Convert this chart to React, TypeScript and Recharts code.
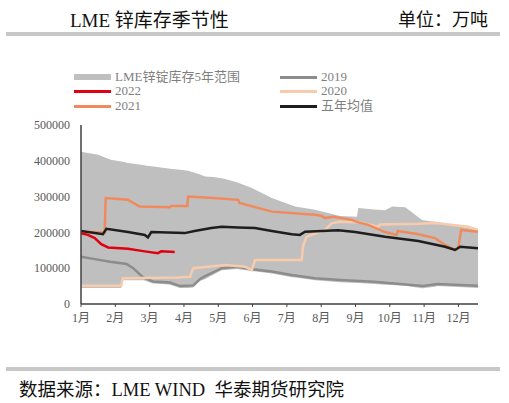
import { ComposedChart, Area, Line, XAxis, YAxis } from 'recharts'

const SERIF = '"Liberation Serif", "Noto Sans CJK SC", serif'

// axis ticks
const MONTH_TICKS = [1, 2, 3, 4, 5, 6, 7, 8, 9, 10, 11, 12]
const MONTH_LABELS = ['1月', '2月', '3月', '4月', '5月', '6月', '7月', '8月', '9月', '10月', '11月', '12月']
const Y_TICKS = [0, 100000, 200000, 300000, 400000, 500000]

// LME锌锭库存5年范围 (x = month position)
const RANGE_X = [1.0, 1.5, 1.87, 2.17, 2.22, 2.37, 2.81, 2.87, 3.1, 3.45, 3.59, 3.89, 4.12, 4.27, 4.47, 4.62, 4.85, 5.1, 5.2, 5.54, 5.98, 6.56, 7.14, 7.24, 7.82, 8.55, 9.04, 9.08, 9.54, 9.86, 10.07, 10.45, 10.93, 10.97, 11.32, 11.38, 12.57]
const RANGE_HIGH = [425000, 417000, 403000, 398000, 397000, 394000, 388000, 387000, 384000, 380000, 378000, 375000, 372000, 368000, 362000, 356000, 355000, 351000, 349000, 340000, 324000, 296000, 276000, 272000, 263000, 246000, 244000, 268000, 264000, 262000, 272000, 270000, 235000, 234000, 230000, 229000, 207000]
const RANGE_LOW = [45000, 45000, 45000, 45000, 66000, 66000, 66000, 65000, 57000, 55000, 54000, 45000, 45000, 46000, 64000, 70000, 82000, 94000, 95000, 98000, 92000, 85000, 75000, 74000, 66000, 61000, 59000, 59000, 56000, 54000, 53000, 51000, 44000, 44000, 48000, 50000, 45000]

// 2019
const X_2019 = [1.0, 1.36, 1.85, 2.33, 2.52, 2.81, 3.1, 3.59, 3.89, 4.27, 4.47, 4.62, 5.1, 5.54, 5.93, 6.56, 7.14, 7.82, 8.55, 9.54, 10.97, 11.38, 12.57]
const V_2019 = [132000, 126000, 118000, 112000, 100000, 74000, 63000, 60000, 50000, 52000, 70000, 78000, 100000, 104000, 98000, 91000, 81000, 72000, 67000, 62000, 50000, 56000, 51000]

// 2020
const X_2020 = [1.0, 2.17, 2.22, 3.83, 4.18, 4.27, 5.2, 5.78, 5.98, 6.07, 7.43, 7.48, 7.58, 8.11, 8.31, 8.55, 9.13, 9.66, 9.72, 10.83, 11.32, 12.28, 12.57]
const V_2020 = [51000, 51000, 72000, 74000, 76000, 100000, 109000, 104000, 95000, 123000, 123000, 165000, 188000, 207000, 226000, 230000, 228000, 216000, 222000, 224000, 226000, 216000, 207000]

// 2021
const X_2021 = [1.0, 1.69, 1.72, 2.37, 2.71, 3.59, 3.62, 4.1, 4.12, 4.85, 5.58, 5.62, 6.56, 7.82, 8.02, 8.11, 8.35, 8.89, 9.08, 9.37, 9.86, 10.2, 10.23, 10.83, 11.32, 11.61, 11.9, 11.99, 12.08, 12.57]
const V_2021 = [202000, 200000, 296000, 291000, 272000, 270000, 274000, 274000, 300000, 296000, 291000, 282000, 258000, 249000, 246000, 240000, 244000, 235000, 228000, 221000, 201000, 193000, 204000, 195000, 184000, 165000, 151000, 155000, 207000, 202000]

// 2022
const X_2022 = [1.0, 1.2, 1.4, 1.59, 1.79, 2.37, 2.86, 3.24, 3.34, 3.73]
const V_2022 = [198000, 193000, 184000, 167000, 158000, 154000, 147000, 142000, 147000, 145000]

// 五年均值
const X_AVG = [1.0, 1.64, 1.74, 2.37, 2.86, 2.95, 3.05, 4.02, 4.31, 4.8, 5.1, 5.58, 6.07, 6.56, 7.14, 7.38, 7.53, 8.02, 8.5, 8.99, 9.86, 10.83, 11.61, 11.9, 12.05, 12.57]
const V_AVG = [204000, 195000, 210000, 201000, 193000, 186000, 201000, 198000, 204000, 212000, 216000, 214000, 212000, 204000, 195000, 193000, 202000, 204000, 206000, 201000, 188000, 176000, 160000, 151000, 160000, 156000]

const COLORS = {
  range: '#BFBFBF',
  y2019: '#8C8C8C',
  y2020: '#F8CBAD',
  y2021: '#F08A5D',
  y2022: '#E00010',
  avg: '#1E1E1E',
}

const toPts = (xs: number[], vs: number[]) => xs.map((x, i) => ({ x, v: vs[i] }))

const rangeData = RANGE_X.map((x, i) => ({ x, range: [RANGE_LOW[i], RANGE_HIGH[i]] }))

const LEGEND = [
  { label: 'LME锌锭库存5年范围', color: COLORS.range, band: true, left: 74, top: 77 },
  { label: '2022', color: COLORS.y2022, left: 74, top: 91 },
  { label: '2021', color: COLORS.y2021, left: 74, top: 106 },
  { label: '2019', color: COLORS.y2019, left: 280, top: 77 },
  { label: '2020', color: COLORS.y2020, left: 280, top: 91 },
  { label: '五年均值', color: COLORS.avg, left: 280, top: 106 },
]

export default function App() {
  return (
    <div style={{ position: 'absolute', left: 0, top: 0, width: 509, height: 403, background: '#fff', fontFamily: SERIF }}>
      {/* header */}
      <div style={{ position: 'absolute', left: 70, top: 5, fontSize: 19, color: '#111', whiteSpace: 'nowrap' }}>
        LME 锌库存季节性
      </div>
      <div style={{ position: 'absolute', right: 21, top: 5, fontSize: 18, color: '#111', whiteSpace: 'nowrap' }}>
        单位：万吨
      </div>
      <div style={{ position: 'absolute', left: 6, top: 32, width: 494, height: 4, background: '#C8C8C8' }} />

      {/* legend */}
      {LEGEND.map((l) => (
        <div key={l.label} style={{ position: 'absolute', left: l.left, top: l.top - 7, height: 14, lineHeight: '14px', display: 'flex', alignItems: 'center', whiteSpace: 'nowrap' }}>
          <span style={{ display: 'inline-block', width: 37, height: l.band ? 6 : 3, background: l.color }} />
          <span style={{ marginLeft: 4, fontSize: 13, color: '#7F7F7F' }}>{l.label}</span>
        </div>
      ))}

      <ComposedChart width={509} height={403} margin={{ top: 125, right: 31, bottom: 74, left: 0 }}
        style={{ position: 'absolute', left: 0, top: 0 }}>
        <XAxis type="number" dataKey="x" domain={[1, 12.57]} ticks={MONTH_TICKS} allowDataOverflow
          tickFormatter={(v) => MONTH_LABELS[(v as number) - 1]}
          axisLine={{ stroke: '#404040', strokeWidth: 1.5 }} tickLine={{ stroke: '#404040' }} tickSize={3} tickMargin={6}
          tick={{ fontSize: 12, fill: '#595959', fontFamily: SERIF }} height={25} />
        <YAxis type="number" domain={[0, 500000]} ticks={Y_TICKS} allowDataOverflow width={81}
          axisLine={{ stroke: '#404040', strokeWidth: 1.5 }} tickLine={false} tickMargin={5}
          tick={{ fontSize: 12, fill: '#595959', fontFamily: SERIF }} />
        <Area data={rangeData} dataKey="range" type="linear" stroke="none" fill={COLORS.range} fillOpacity={1} isAnimationActive={false} />
        <Line data={toPts(X_2019, V_2019)} dataKey="v" type="linear" stroke={COLORS.y2019} strokeWidth={2.5} dot={false} isAnimationActive={false} />
        <Line data={toPts(X_2020, V_2020)} dataKey="v" type="linear" stroke={COLORS.y2020} strokeWidth={2.5} dot={false} isAnimationActive={false} />
        <Line data={toPts(X_2021, V_2021)} dataKey="v" type="linear" stroke={COLORS.y2021} strokeWidth={2.5} dot={false} isAnimationActive={false} />
        <Line data={toPts(X_AVG, V_AVG)} dataKey="v" type="linear" stroke={COLORS.avg} strokeWidth={2.5} dot={false} isAnimationActive={false} />
        <Line data={toPts(X_2022, V_2022)} dataKey="v" type="linear" stroke={COLORS.y2022} strokeWidth={2.5} dot={false} isAnimationActive={false} />
      </ComposedChart>

      {/* footer */}
      <div style={{ position: 'absolute', left: 6, top: 367, width: 494, height: 4, background: '#C8C8C8' }} />
      <div style={{ position: 'absolute', left: 19, top: 375, fontSize: 18.5, color: '#111', whiteSpace: 'pre' }}>
        {'数据来源：LME WIND  华泰期货研究院'}
      </div>
    </div>
  )
}
